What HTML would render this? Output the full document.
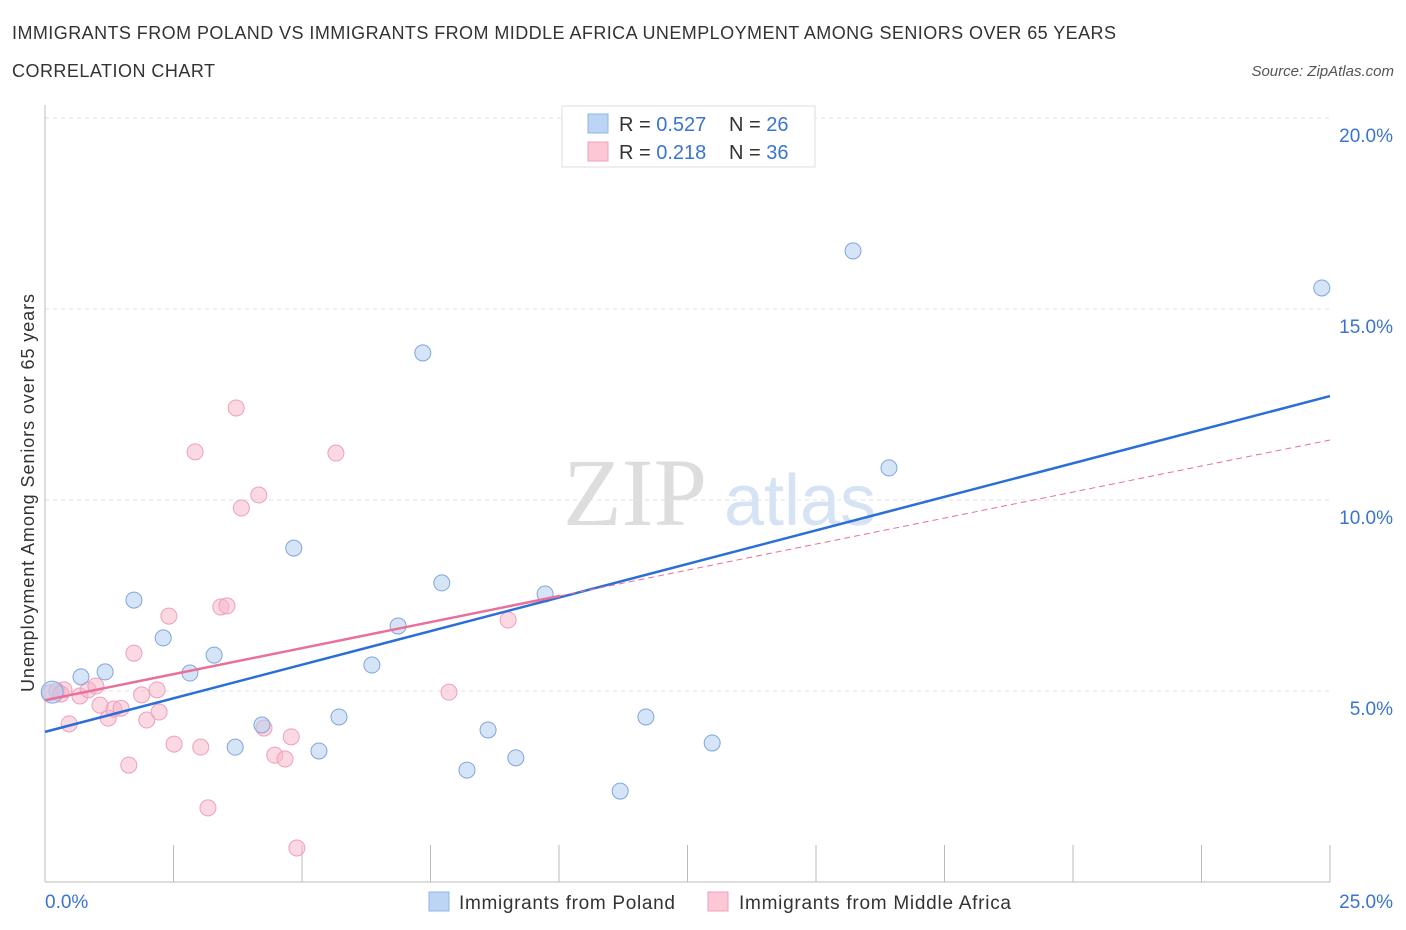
<!DOCTYPE html>
<html><head><meta charset="utf-8"><style>
body{margin:0;background:#fff;font-family:"Liberation Sans",sans-serif;}
svg{display:block}
</style></head><body>
<svg id="c" width="1406" height="930" xmlns="http://www.w3.org/2000/svg">
<text x="12" y="39" font-size="18" fill="#333" textLength="1104">IMMIGRANTS FROM POLAND VS IMMIGRANTS FROM MIDDLE AFRICA UNEMPLOYMENT AMONG SENIORS OVER 65 YEARS</text>
<text x="12" y="77" font-size="18" fill="#333" textLength="203">CORRELATION CHART</text>
<text x="1394" y="76" font-size="15" fill="#555" font-style="italic" text-anchor="end">Source: ZipAtlas.com</text>
<text x="635" y="525" font-size="96" fill="#ddd" font-family="Liberation Serif" text-anchor="middle">ZIP</text>
<text x="800" y="525" font-size="72" fill="#d5e3f5" text-anchor="middle">atlas</text>
<g id="grid"></g>
<g id="axes"></g>
<g id="marks"></g>
<text transform="translate(34,493) rotate(-90)" font-size="18" fill="#333" text-anchor="middle" textLength="398">Unemployment Among Seniors over 65 years</text>
<g>
<rect x="562" y="106" width="253" height="61" fill="#fff" stroke="#ddd"/>
<rect x="588" y="114" width="20" height="19" fill="#bcd5f5" stroke="#8fb5e8"/>
<rect x="588" y="142" width="20" height="19" fill="#fcc8d6" stroke="#f0a0b8"/>
<text x="619" y="131" font-size="20" fill="#333">R = <tspan fill="#3a74d0">0.527</tspan></text>
<text x="729" y="131" font-size="20" fill="#333">N = <tspan fill="#3a74d0">26</tspan></text>
<text x="619" y="159" font-size="20" fill="#333">R = <tspan fill="#3a74d0"> 0.218</tspan></text>
<text x="729" y="159" font-size="20" fill="#333">N = <tspan fill="#3a74d0">36</tspan></text>
</g>
<g>
<rect x="429" y="892" width="20" height="19" fill="#bcd5f5" stroke="#8fb5e8"/>
<text x="459" y="909" font-size="19" fill="#333" textLength="216">Immigrants from Poland</text>
<rect x="708" y="892" width="20" height="19" fill="#fcc8d6" stroke="#f0a0b8"/>
<text x="739" y="909" font-size="19" fill="#333" textLength="272">Immigrants from Middle Africa</text>
</g>
</svg>
<script>
const yTicks=[5,10,15,20];
const yTickLabels=["5.0%","10.0%","15.0%","20.0%"];
const polandX=[0.14,0.70,1.17,1.73,2.30,2.82,3.29,3.70,4.22,4.84,5.33,5.72,6.36,6.87,7.35,7.72,8.21,8.62,9.16,9.73,11.19,11.69,12.98,15.72,16.42,24.84];
const polandY=[4.97,5.37,5.50,7.38,6.39,5.47,5.94,3.53,4.11,8.74,3.43,4.32,5.68,6.70,13.85,7.83,2.93,3.98,3.25,7.54,2.38,4.32,3.64,16.52,10.84,15.55];
const africaX=[0.10,0.23,0.37,0.47,0.68,0.84,0.99,1.23,1.34,1.48,1.63,1.73,1.88,1.98,2.18,2.22,2.41,2.51,2.92,3.03,3.17,3.42,3.54,3.72,3.82,4.16,4.26,4.47,4.67,4.79,4.90,5.66,7.86,9.01,0.31,1.07];
const africaY=[4.95,5.00,5.03,4.14,4.87,5.03,5.13,4.29,4.53,4.55,3.06,5.99,4.90,4.24,5.03,4.45,6.96,3.61,11.26,3.53,1.94,7.20,7.23,12.41,9.79,10.13,4.03,3.32,3.22,3.80,0.89,11.23,4.97,6.86,4.92,4.63];
const polandTrend=[3.93,12.72];
const africaTrend=[4.76,11.57];
const X=v=>45+v/25*1285, Y=v=>882-v*38.2;
const NS="http://www.w3.org/2000/svg";
function mk(p,t,a){const e=document.createElementNS(NS,t);for(const k in a)e.setAttribute(k,a[k]);document.getElementById(p).appendChild(e);return e;}
yTicks.forEach((t,i)=>{
 const l=mk('grid','line',{x1:45,x2:1330,y1:Y(t),y2:Y(t),stroke:'#e2e2e2','stroke-dasharray':'4,4'});
 
 
 const tx=mk('grid','text',{x:1393,y:Y(t)+24,'font-size':19,fill:'#3a74d0','text-anchor':'end'});
 tx.textContent=yTickLabels[i];
 
 
});
const ax=mk('axes','line',{x1:45,x2:45,y1:105,y2:882,stroke:'#bbb'});


const bx=mk('axes','line',{x1:45,x2:1330,y1:882,y2:882,stroke:'#bbb'});


for(let i=0;i<=10;i++){
 const t=mk('axes','line',{x1:X(i*2.5),x2:X(i*2.5),y1:845,y2:882,stroke:'#bbb'});
 
 
}
[[0,"0.0%",'start',45],[25,"25.0%",'end',1393]].forEach(d=>{
 const t=mk('axes','text',{x:d[3],y:908,'font-size':19,fill:'#3a74d0','text-anchor':d[2]});
 t.textContent=d[1];
 
 
});
africaX.forEach((x,i)=>{
 const c=mk('marks','circle',{cx:X(x),cy:Y(africaY[i]),r:8,fill:'rgba(248,180,200,0.5)',stroke:'#eea0b8','stroke-width':1});
 
 
});
polandX.forEach((x,i)=>{
 const c=mk('marks','circle',{cx:X(x),cy:Y(polandY[i]),r:i==0?11:8,fill:'rgba(180,205,240,0.55)',stroke:'#7ea6dc','stroke-width':1});
 
 
});
const bt=mk('marks','line',{x1:X(0),y1:Y(polandTrend[0]),x2:X(25),y2:Y(polandTrend[1]),stroke:'#2a6fd6','stroke-width':2.5});


const xm=10.02, ym=africaTrend[0]+(africaTrend[1]-africaTrend[0])*xm/25;
const pd=mk('marks','line',{x1:X(xm),y1:Y(ym),x2:X(25),y2:Y(africaTrend[1]),stroke:'#e87098','stroke-width':1,'stroke-dasharray':'6,4'});


const ps=mk('marks','line',{x1:X(0),y1:Y(africaTrend[0]),x2:X(xm),y2:Y(ym),stroke:'#e8709a','stroke-width':2.5});


</script>
</body></html>
